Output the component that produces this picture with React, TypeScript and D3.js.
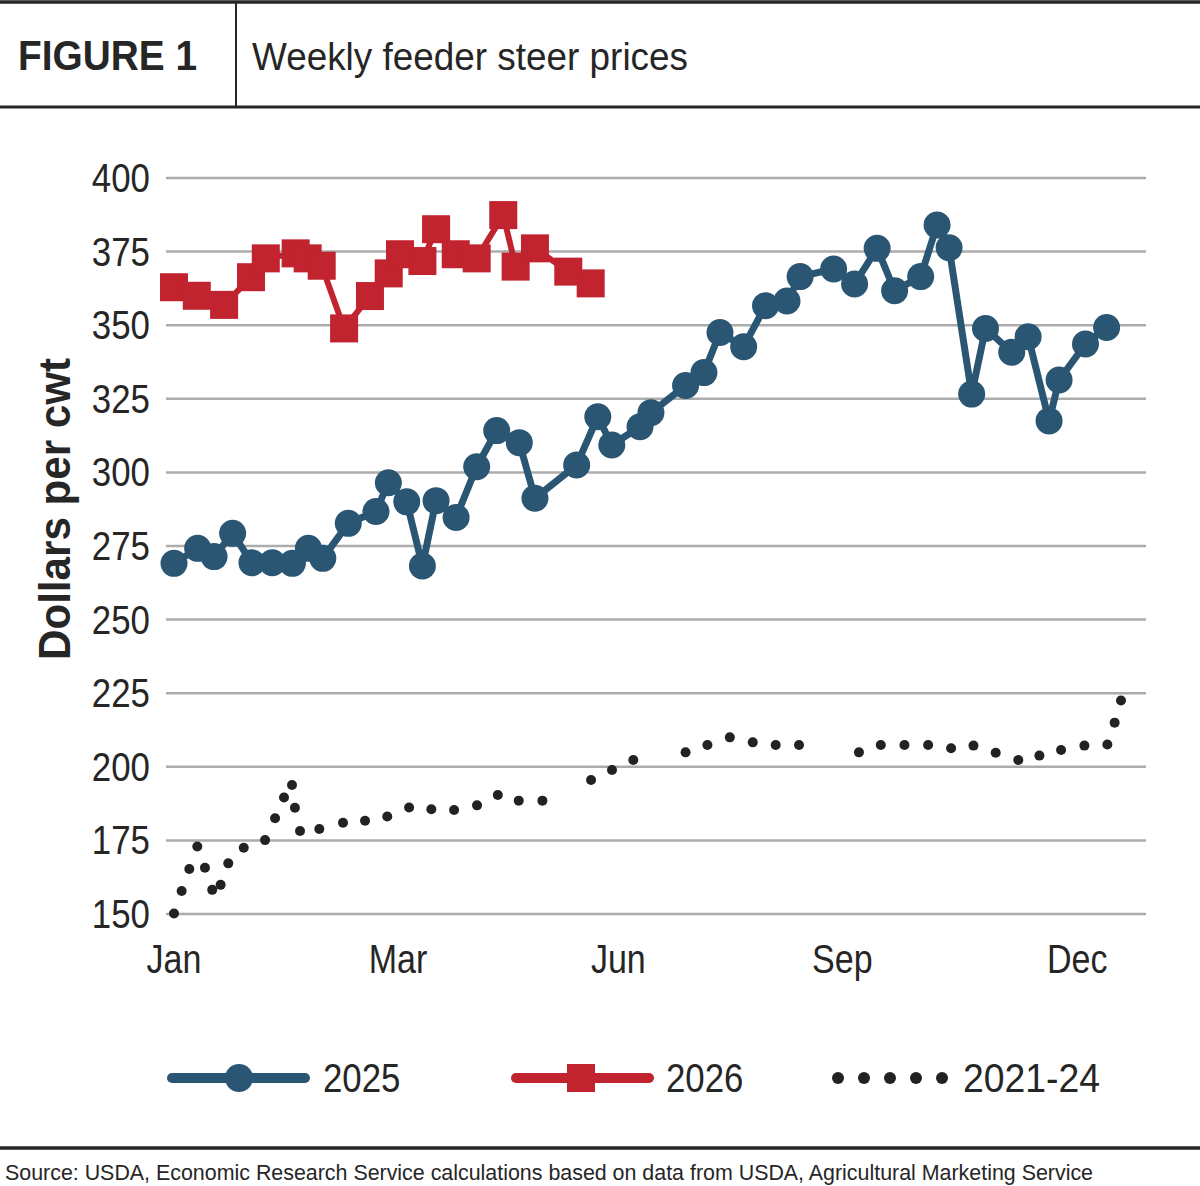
import React, { useEffect, useRef } from 'react';
import * as d3 from 'd3';

// Week-of-year position (0 = first week of Jan) and $/cwt
const weeks2025 = [0, 1.3, 2.2, 3.22, 4.28, 5.4, 6.5, 7.38, 8.17, 9.57, 11.09, 11.77, 12.78, 13.64, 14.39, 15.49, 16.62, 17.72, 18.96, 19.82, 22.11, 23.27, 24.04, 25.59, 26.19, 28.09, 29.1, 29.98, 31.28, 32.48, 33.66, 34.38, 36.22, 37.37, 38.61, 39.57, 41.0, 41.9, 42.56, 43.8, 44.56, 46.0, 46.9, 48.05, 48.6, 50.05, 51.21];
const prices2025 = [269.1, 274.2, 271.4, 279.3, 269.3, 269.3, 269.1, 274.2, 270.8, 282.7, 286.7, 296.5, 290.0, 268.2, 290.4, 284.7, 301.9, 314.2, 310.1, 291.2, 302.5, 318.9, 309.3, 315.5, 320.3, 329.5, 333.9, 347.5, 342.7, 356.6, 358.2, 366.5, 369.1, 364.0, 376.1, 361.7, 366.5, 384.0, 376.3, 326.6, 348.9, 340.8, 346.1, 317.5, 331.4, 343.6, 349.2];

const weeks2026 = [0, 1.25, 2.75, 4.23, 5.04, 6.68, 7.34, 8.11, 9.34, 10.76, 11.79, 12.41, 13.64, 14.39, 15.47, 16.62, 18.08, 18.76, 19.82, 21.65, 22.88];
const prices2026 = [362.9, 360.0, 356.9, 366.3, 372.7, 374.4, 372.7, 370.2, 348.9, 359.9, 367.6, 374.1, 371.8, 382.6, 374.1, 372.7, 387.4, 369.9, 376.1, 368.2, 364.2];

const weeksAvg = [0, 0.42, 0.84, 1.28, 1.7, 2.1, 2.56, 2.98, 3.83, 5.0, 5.55, 6.04, 6.48, 6.64, 6.92, 7.98, 9.28, 10.49, 11.71, 12.91, 14.13, 15.38, 16.64, 17.78, 18.93, 20.23, 22.9, 24.05, 25.22, 28.09, 29.29, 30.52, 31.78, 33.04, 34.32, 37.61, 38.81, 40.11, 41.41, 42.67, 43.9, 45.12, 46.36, 47.52, 48.71, 49.99, 51.25, 51.65, 52.0];
const pricesAvg = [150.2, 157.8, 165.3, 172.9, 165.7, 158.2, 159.9, 167.2, 172.5, 175.1, 182.5, 189.6, 193.8, 186.1, 178.2, 178.9, 181.0, 181.7, 183.1, 186.2, 185.6, 185.3, 186.9, 190.4, 188.5, 188.5, 195.5, 198.9, 202.3, 204.9, 207.4, 210.0, 208.3, 207.4, 207.4, 204.9, 207.4, 207.4, 207.4, 206.3, 207.2, 204.8, 202.3, 203.8, 205.7, 207.2, 207.6, 215.0, 222.5];

const yTicks = [150, 175, 200, 225, 250, 275, 300, 325, 350, 375, 400];
const monthLabels = ['Jan', 'Mar', 'Jun', 'Sep', 'Dec'];
const monthWeeks = [0, 12.3, 24.4, 36.7, 49.6];

const BLUE = '#2a5673';
const RED = '#c1232f';
const DOT = '#222222';
const INK = '#262626';
const FONT = '"Liberation Sans", Arial, sans-serif';

const App = () => {
  const svgRef = useRef(null);
  const width = 1200;
  const height = 1186;

  useEffect(() => {
    const svg = d3.select(svgRef.current);
    svg.selectAll('*').remove();

    const x = d3.scaleLinear().domain([0, 52]).range([174, 1121]);
    const y = d3.scaleLinear().domain([150, 400]).range([914, 178]);

    // narrow sans look: squeeze glyphs horizontally
    const squeezed = (g, px, py, str, size, anchor, sx = 0.85, weight = 'normal') =>
      g.append('text')
        .attr('transform', `translate(${px},${py}) scale(${sx},1)`)
        .attr('text-anchor', anchor)
        .style('font-family', FONT)
        .style('font-size', `${size}px`)
        .style('font-weight', weight)
        .style('fill', INK)
        .text(str);

    // Header band
    svg.append('line').attr('x1', 0).attr('x2', width).attr('y1', 2).attr('y2', 2)
      .attr('stroke', INK).attr('stroke-width', 3.5);
    svg.append('line').attr('x1', 0).attr('x2', width).attr('y1', 107).attr('y2', 107)
      .attr('stroke', INK).attr('stroke-width', 3);
    svg.append('line').attr('x1', 236).attr('x2', 236).attr('y1', 3).attr('y2', 106)
      .attr('stroke', INK).attr('stroke-width', 2);

    svg.append('text')
      .attr('x', 18).attr('y', 70)
      .attr('textLength', 179).attr('lengthAdjust', 'spacingAndGlyphs')
      .style('font-family', FONT).style('font-size', '42px').style('font-weight', 'bold')
      .style('fill', INK)
      .text('FIGURE 1');

    svg.append('text')
      .attr('x', 252).attr('y', 70)
      .attr('textLength', 436).attr('lengthAdjust', 'spacingAndGlyphs')
      .style('font-family', FONT).style('font-size', '38px')
      .style('fill', INK)
      .text('Weekly feeder steer prices');

    // Gridlines
    const grid = svg.append('g');
    yTicks.forEach(t => {
      grid.append('line')
        .attr('x1', 166).attr('x2', 1146)
        .attr('y1', y(t)).attr('y2', y(t))
        .attr('stroke', '#acacac').attr('stroke-width', 2.5);
    });

    // Y tick labels
    const yAxis = svg.append('g');
    yTicks.forEach(t => {
      squeezed(yAxis, 150, y(t) + 14, String(t), 41, 'end', 0.85);
    });

    // X month labels
    const xAxis = svg.append('g');
    monthLabels.forEach((m, i) => {
      squeezed(xAxis, x(monthWeeks[i]), 973, m, 41, 'middle', 0.83);
    });

    // Y axis title
    svg.append('text')
      .attr('transform', 'translate(70,509) rotate(-90)')
      .attr('text-anchor', 'middle')
      .attr('textLength', 302).attr('lengthAdjust', 'spacingAndGlyphs')
      .style('font-family', FONT).style('font-size', '44px').style('font-weight', 'bold')
      .style('fill', INK)
      .text('Dollars per cwt');

    // 2021-24 average: dots only
    svg.append('g')
      .selectAll('circle')
      .data(d3.zip(weeksAvg, pricesAvg))
      .enter().append('circle')
      .attr('cx', d => x(d[0]))
      .attr('cy', d => y(d[1]))
      .attr('r', 5)
      .attr('fill', DOT);

    // 2025
    const line = d3.line().x(d => x(d[0])).y(d => y(d[1]));
    const s2025 = d3.zip(weeks2025, prices2025);
    svg.append('path')
      .attr('d', line(s2025))
      .attr('fill', 'none')
      .attr('stroke', BLUE)
      .attr('stroke-width', 7)
      .attr('stroke-linejoin', 'round');
    svg.append('g')
      .selectAll('circle')
      .data(s2025)
      .enter().append('circle')
      .attr('cx', d => x(d[0]))
      .attr('cy', d => y(d[1]))
      .attr('r', 13.5)
      .attr('fill', BLUE);

    // 2026
    const s2026 = d3.zip(weeks2026, prices2026);
    const sq = 28;
    svg.append('path')
      .attr('d', line(s2026))
      .attr('fill', 'none')
      .attr('stroke', RED)
      .attr('stroke-width', 6)
      .attr('stroke-linejoin', 'round');
    svg.append('g')
      .selectAll('rect')
      .data(s2026)
      .enter().append('rect')
      .attr('x', d => x(d[0]) - sq / 2)
      .attr('y', d => y(d[1]) - sq / 2)
      .attr('width', sq)
      .attr('height', sq)
      .attr('fill', RED);

    // Legend
    const legend = svg.append('g').attr('transform', 'translate(0,1078)');
    legend.append('line').attr('x1', 172).attr('x2', 305).attr('y1', 0).attr('y2', 0)
      .attr('stroke', BLUE).attr('stroke-width', 10).attr('stroke-linecap', 'round');
    legend.append('circle').attr('cx', 239).attr('cy', 0).attr('r', 14).attr('fill', BLUE);
    squeezed(legend, 323, 14, '2025', 40, 'start', 0.87);

    legend.append('line').attr('x1', 516).attr('x2', 649).attr('y1', 0).attr('y2', 0)
      .attr('stroke', RED).attr('stroke-width', 10).attr('stroke-linecap', 'round');
    legend.append('rect').attr('x', 581 - 14).attr('y', -14).attr('width', 28).attr('height', 28)
      .attr('fill', RED);
    squeezed(legend, 666, 14, '2026', 40, 'start', 0.87);

    [838, 864, 890, 916, 942].forEach(cx => {
      legend.append('circle').attr('cx', cx).attr('cy', 0).attr('r', 6).attr('fill', DOT);
    });
    legend.append('text')
      .attr('x', 963).attr('y', 14)
      .attr('textLength', 137).attr('lengthAdjust', 'spacingAndGlyphs')
      .style('font-family', FONT).style('font-size', '40px')
      .style('fill', INK)
      .text('2021-24');

    // Footer
    svg.append('line').attr('x1', 0).attr('x2', width).attr('y1', 1148).attr('y2', 1148)
      .attr('stroke', INK).attr('stroke-width', 3.5);
    svg.append('text')
      .attr('x', 5).attr('y', 1180)
      .attr('textLength', 1088).attr('lengthAdjust', 'spacingAndGlyphs')
      .style('font-family', FONT).style('font-size', '22px')
      .style('fill', INK)
      .text('Source: USDA, Economic Research Service calculations based on data from USDA, Agricultural Marketing Service');
  }, []);

  return (
    <svg
      ref={svgRef}
      width={width}
      height={height}
      style={{ position: 'absolute', left: 0, top: 0, display: 'block', background: '#fff' }}
    />
  );
};

export default App;
